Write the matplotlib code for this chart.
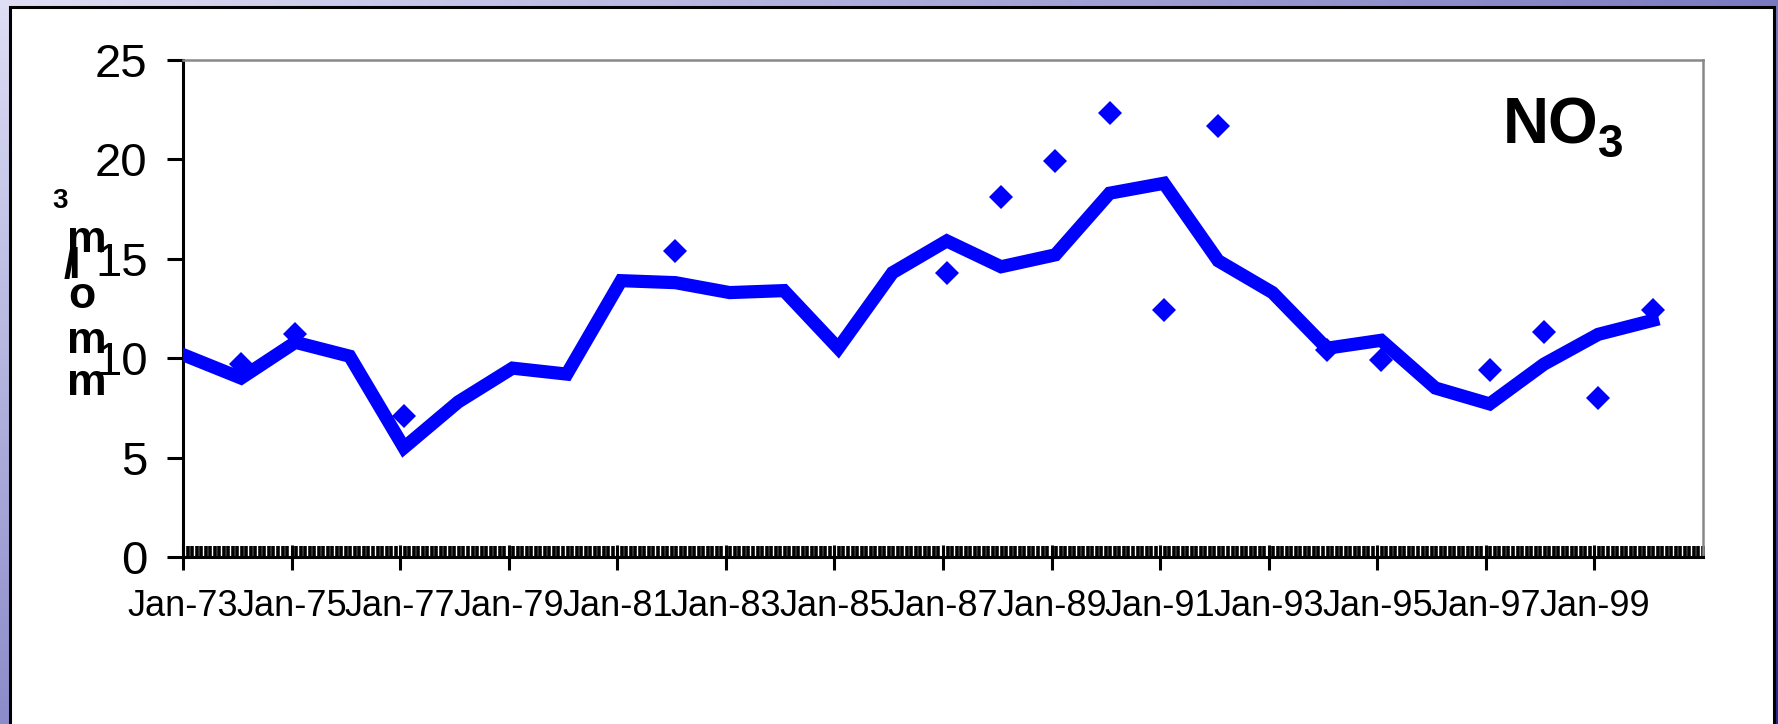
import matplotlib
matplotlib.use("Agg")
import matplotlib.pyplot as plt
import numpy as np
from matplotlib.patches import Rectangle

plt.rcParams['font.family'] = ['Liberation Sans', 'DejaVu Sans']

# annual NO3 curve (mmol/m3)
years = list(range(1973, 2001))
annual_no3 = [10.1, 9.0, 10.8, 10.1, 5.5, 7.8, 9.5, 9.2, 13.9, 13.8, 13.3, 13.4, 10.5, 14.3,
              15.9, 14.6, 15.2, 18.3, 18.8, 14.9, 13.3, 10.5, 10.9, 8.5, 7.7, 9.7, 11.2, 11.9]

# individual measurements
obs_years = [1974, 1975, 1977, 1982, 1987, 1988, 1989, 1990, 1991, 1992,
             1994, 1995, 1997, 1998, 1999, 2000]
obs_no3 = [9.7, 11.2, 7.1, 15.4, 14.3, 18.1, 19.9, 22.35, 12.4, 21.7,
           10.4, 9.9, 9.4, 11.3, 8.0, 12.4]

tick_years = list(range(1973, 2000, 2))
tick_labels = [f"Jan-{y % 100:02d}" for y in tick_years]
y_ticks = [0, 5, 10, 15, 20, 25]

W, H = 1778, 724
fig = plt.figure(figsize=(W / 100, H / 100), dpi=100)


def fx(px):
    return px / W


def fy(py):
    return 1 - py / H


# slide background gradient
bg = fig.add_axes([0, 0, 1, 1])
xx, yy = np.meshgrid(np.linspace(0, 1, 200), np.linspace(0, 1, 100))
t = np.clip(0.55 * xx + 0.45 * yy, 0, 1)[..., None]
light = np.array([222, 222, 245]) / 255
dark = np.array([40, 40, 150]) / 255
bg.imshow(light * (1 - t) + dark * t, aspect='auto', extent=[0, 1, 0, 1])
bg.set_xlim(0, 1)
bg.set_ylim(0, 1)
bg.axis('off')
bg.add_patch(Rectangle((fx(10), -0.02), fx(1774) - fx(10), fy(7) + 0.02,
                       facecolor='white', edgecolor='black', lw=2.2, clip_on=False))

ax = fig.add_axes([fx(183), fy(557), fx(1703) - fx(183), fy(60) - fy(557)])
ax.set_facecolor('white')

x_line = np.array(years) + 0.07
x_obs = np.array(obs_years) + 0.07
ax.plot(x_obs, obs_no3, 'D', color='#0000FF', ms=12, mew=0, zorder=3)
ax.plot(x_line, annual_no3, color='#0000FF', lw=9.5, solid_joinstyle='miter', zorder=4)

ax.set_xlim(1973, 2001)
ax.set_ylim(0, 25)
ax.set_yticks(y_ticks)
ax.set_xticks(tick_years)
ax.set_xticklabels(tick_labels)
ax.set_xticks(1973 + np.arange(0, 28 * 12 + 1) / 12, minor=True)

ax.tick_params(axis='x', which='major', direction='inout', length=18, width=2.2,
               pad=14, labelsize=26)
ax.tick_params(axis='x', which='minor', direction='in', length=8, width=2.6)
ax.tick_params(axis='y', direction='out', length=11.5, width=2.2, pad=14, labelsize=34)

for side in ['top', 'right']:
    ax.spines[side].set_color('#888888')
    ax.spines[side].set_linewidth(1.8)
for side in ['left', 'bottom']:
    ax.spines[side].set_color('black')
    ax.spines[side].set_linewidth(2.2)

# NO3 label
fig.text(fx(1503), fy(143), "NO", fontsize=46, fontweight='bold', ha='left', va='baseline')
fig.text(fx(1598), fy(157), "3", fontsize=33, fontweight='bold', ha='left', va='baseline')

# stacked y-axis unit (mmol/m3 drawn bottom-up)
unit_chars = [("3", 60, 208, 20), ("m", 87, 252, 32), ("/", 69, 278, 30), ("l", 74, 278, 30),
              ("o", 82, 308, 32), ("m", 87, 353, 32), ("m", 87, 395, 32)]
for ch, px, py, fs in unit_chars:
    fig.text(fx(px), fy(py), ch, fontsize=fs, fontweight='bold', ha='center', va='baseline')

fig.savefig("out.png", dpi=100)
